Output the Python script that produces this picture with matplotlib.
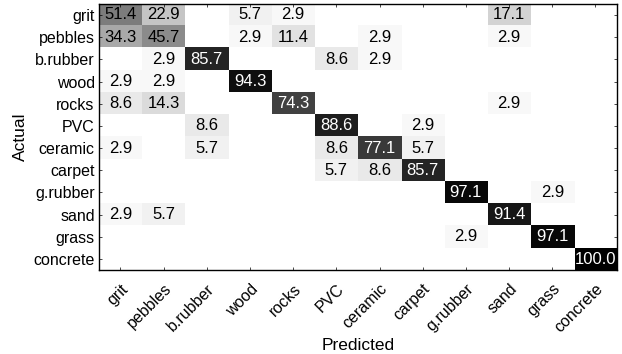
import numpy as np
import matplotlib
matplotlib.use("Agg")
import matplotlib.pyplot as plt

plt.rcParams['font.family'] = ['Liberation Sans', 'DejaVu Sans']

labels = ["grit", "pebbles", "b.rubber", "wood", "rocks", "PVC", "ceramic",
          "carpet", "g.rubber", "sand", "grass", "concrete"]

grit     = [51.4, 22.9, 0, 5.7, 2.9, 0, 0, 0, 0, 17.1, 0, 0]
pebbles  = [34.3, 45.7, 0, 2.9, 11.4, 0, 2.9, 0, 0, 2.9, 0, 0]
b_rubber = [0, 2.9, 85.7, 0, 0, 8.6, 2.9, 0, 0, 0, 0, 0]
wood     = [2.9, 2.9, 0, 94.3, 0, 0, 0, 0, 0, 0, 0, 0]
rocks    = [8.6, 14.3, 0, 0, 74.3, 0, 0, 0, 0, 2.9, 0, 0]
pvc      = [0, 0, 8.6, 0, 0, 88.6, 0, 2.9, 0, 0, 0, 0]
ceramic  = [2.9, 0, 5.7, 0, 0, 8.6, 77.1, 5.7, 0, 0, 0, 0]
carpet   = [0, 0, 0, 0, 0, 5.7, 8.6, 85.7, 0, 0, 0, 0]
g_rubber = [0, 0, 0, 0, 0, 0, 0, 0, 97.1, 0, 2.9, 0]
sand     = [2.9, 5.7, 0, 0, 0, 0, 0, 0, 0, 91.4, 0, 0]
grass    = [0, 0, 0, 0, 0, 0, 0, 0, 2.9, 0, 97.1, 0]
concrete = [0, 0, 0, 0, 0, 0, 0, 0, 0, 0, 0, 100.0]

cm = np.array([grit, pebbles, b_rubber, wood, rocks, pvc, ceramic,
               carpet, g_rubber, sand, grass, concrete])

fig = plt.figure(figsize=(6.22, 3.54), dpi=100)
ax = fig.add_axes([0.159, 0.237, 0.833, 0.752])
ax.imshow(cm, cmap="gray_r", vmin=0, vmax=100, aspect="auto",
          interpolation="nearest")

n = len(labels)
for i in range(n):
    for j in range(n):
        v = cm[i, j]
        if v > 0:
            ax.text(j, i, f"{v:.1f}", ha="center", va="center", fontsize=12,
                    color="white" if v > 60 else "black")

ax.set_xticks(range(n))
ax.set_yticks(range(n))
ax.set_xticklabels(labels, rotation=45, ha="right", rotation_mode="anchor",
                   fontsize=11.5)
ax.set_yticklabels(labels, fontsize=11.5)
ax.tick_params(direction="in", length=2, width=0.5, top=True, right=True)
ax.tick_params(axis="x", pad=8)
ax.tick_params(axis="y", pad=3)
for s in ax.spines.values():
    s.set_linewidth(1.0)
ax.set_xlabel("Predicted", fontsize=12.5, labelpad=2)
ax.set_ylabel("Actual", fontsize=12.5, labelpad=4)

fig.savefig("out.png", dpi=100)
